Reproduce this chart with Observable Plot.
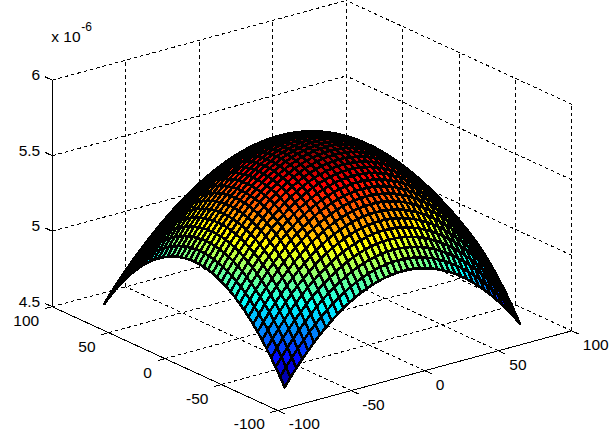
<!DOCTYPE html>
<html>
<head>
<meta charset="utf-8">
<script src="https://cdn.jsdelivr.net/npm/d3@7"></script>
<script src="https://cdn.jsdelivr.net/npm/@observablehq/plot@0.6"></script>
<style>html,body{margin:0;padding:0;background:#fff}svg{display:block}</style>
</head>
<body>
<div id="chart"></div>
<script>
// Axis values
const xTicks = [-100, -50, 0, 50, 100];
const yTicks = [-100, -50, 0, 50, 100];
const zTicks = [4.5, 5, 5.5, 6];
const xyLimits = [-100, 100];
const zLimits = [4.5, 6];
const gridStep = 4;          // surface sample spacing, from -80 to 80
const viewAzimuth = 37.5;
const viewElevation = 30;

// Surface heights (x 10^-6). The surface looks symmetric,
// so row r holds the heights for |x| index r and |y| index r, r+1, ... 20 (step 4).
const zRows = [
[5.692,5.690,5.686,5.678,5.668,5.654,5.638,5.618,5.596,5.570,5.541,5.510,5.475,5.437,5.397,5.353,5.306,5.257,5.204,5.148,5.089],
[5.689,5.684,5.677,5.666,5.653,5.636,5.617,5.594,5.568,5.540,5.508,5.474,5.436,5.395,5.352,5.305,5.255,5.202,5.147,5.088],
[5.680,5.672,5.662,5.648,5.632,5.612,5.590,5.564,5.535,5.504,5.469,5.432,5.391,5.347,5.301,5.251,5.198,5.142,5.084],
[5.665,5.654,5.641,5.624,5.605,5.582,5.557,5.528,5.496,5.462,5.424,5.384,5.340,5.293,5.244,5.191,5.135,5.077],
[5.644,5.630,5.614,5.594,5.572,5.546,5.518,5.486,5.452,5.414,5.373,5.330,5.283,5.234,5.181,5.126,5.067],
[5.617,5.600,5.581,5.558,5.533,5.504,5.473,5.438,5.401,5.360,5.317,5.270,5.221,5.168,5.113,5.055],
[5.584,5.564,5.542,5.517,5.488,5.457,5.422,5.385,5.344,5.301,5.255,5.205,5.153,5.098,5.039],
[5.545,5.523,5.497,5.469,5.438,5.403,5.366,5.326,5.282,5.236,5.187,5.135,5.079,5.021],
[5.500,5.475,5.447,5.415,5.381,5.344,5.304,5.261,5.215,5.165,5.113,5.058,5.000],
[5.450,5.422,5.390,5.356,5.319,5.279,5.236,5.190,5.141,5.089,5.034,4.977],
[5.394,5.362,5.329,5.292,5.252,5.209,5.163,5.114,5.063,5.008,4.950],
[5.332,5.298,5.261,5.221,5.179,5.133,5.084,5.033,4.978,4.921],
[5.264,5.227,5.188,5.145,5.100,5.052,5.000,4.946,4.889],
[5.191,5.152,5.109,5.064,5.016,4.965,4.911,4.854],
[5.112,5.070,5.025,4.978,4.927,4.873,4.817],
[5.029,4.984,4.936,4.886,4.833,4.776],
[4.940,4.892,4.842,4.789,4.733],
[4.845,4.796,4.743,4.687],
[4.746,4.694,4.639],
[4.642,4.587],
[4.533]
];

// Jet colormap stops
const jetStops = [0, 0.125, 0.375, 0.625, 0.875, 1];
const jetColors = ["#000080", "#0000ff", "#00ffff", "#ffff00", "#ff0000", "#800000"];

// Orthographic view of the axes box (MATLAB's default view)
const az = viewAzimuth * Math.PI / 180, el = viewElevation * Math.PI / 180;
const norm = (v, [a, b]) => (v - a) / (b - a);
function px(x, y) { return norm(x, xyLimits) * Math.cos(az) - norm(y, xyLimits) * Math.sin(az); }
function py(x, y, z) {
  return (norm(x, xyLimits) * Math.sin(az) + norm(y, xyLimits) * Math.cos(az)) * Math.sin(el)
       + norm(z, zLimits) * Math.cos(el);
}
const pt = (x, y, z) => ({x: px(x, y), y: py(x, y, z)});
const seg = (a, b) => { const p = pt(...a), q = pt(...b); return {x1: p.x, y1: p.y, x2: q.x, y2: q.y}; };

// Surface faces, far ones first
const zAt = (i, j) => {
  const a = Math.abs(i), b = Math.abs(j), lo = Math.min(a, b), hi = Math.max(a, b);
  return zRows[lo][hi - lo];
};
const faces = [];
for (let i = -20; i < 20; ++i) for (let j = -20; j < 20; ++j) {
  const corners = [[i, j], [i + 1, j], [i + 1, j + 1], [i, j + 1], [i, j]];
  const h = d3.mean(corners.slice(0, 4), ([a, b]) => zAt(a, b));
  faces.push({id: `${i},${j}`, h, depth: (i + 0.5) * Math.sin(az) + (j + 0.5) * Math.cos(az), corners});
}
faces.sort((a, b) => b.depth - a.depth);
const facePoints = faces.flatMap(f => f.corners.map(([a, b]) => {
  const p = pt(a * gridStep, b * gridStep, zAt(a, b));
  return {id: f.id, h: f.h, x: p.x, y: p.y};
}));
const allZ = zRows.flat();
const zMin = d3.min(allZ), zMax = d3.max(allZ);

// Box, grid and ticks
const [lo, hi] = xyLimits, [zb, zt] = zLimits;
const dashed = [
  seg([lo, hi, zb], [hi, hi, zb]), seg([hi, lo, zb], [hi, hi, zb]),
  seg([lo, hi, zt], [hi, hi, zt]), seg([hi, lo, zt], [hi, hi, zt]),
  seg([hi, hi, zb], [hi, hi, zt]), seg([hi, lo, zb], [hi, lo, zt]),
  ...xTicks.slice(1, -1).flatMap(t => [seg([t, lo, zb], [t, hi, zb]), seg([t, hi, zb], [t, hi, zt])]),
  ...yTicks.slice(1, -1).flatMap(t => [seg([lo, t, zb], [hi, t, zb]), seg([hi, t, zb], [hi, t, zt])]),
  ...zTicks.slice(1, -1).flatMap(t => [seg([lo, hi, t], [hi, hi, t]), seg([hi, lo, t], [hi, hi, t])])
];
const xTickLen = 6.5, yTickLen = 5;
const solid = [
  seg([lo, lo, zb], [hi, lo, zb]), seg([lo, lo, zb], [lo, hi, zb]), seg([lo, hi, zb], [lo, hi, zt]),
  ...xTicks.map(t => seg([t, lo, zb], [t, lo - xTickLen, zb])),
  ...yTicks.map(t => seg([lo, t, zb], [lo - yTickLen, t, zb])),
  ...zTicks.map(t => seg([lo, hi, t], [lo, hi + xTickLen, t]))
];

const font = {fontFamily: "Liberation Sans, Arial, sans-serif", fill: "#000"};
const top0 = pt(lo, hi, zt);

const chart = Plot.plot({
  width: 614, height: 447,
  marginTop: 0, marginRight: 0, marginBottom: 0, marginLeft: 0,
  style: {background: "#fff"},
  x: {axis: null, domain: [-Math.sin(az), Math.cos(az)], range: [51.7, 571.3]},
  y: {axis: null, domain: [0, Math.sin(az) * Math.sin(el) + Math.cos(az) * Math.sin(el) + Math.cos(el)], range: [410, 0]},
  color: {type: "linear", domain: jetStops.map(t => zMin + t * (zMax - zMin)), range: jetColors, interpolate: "rgb"},
  marks: [
    Plot.link(dashed, {x1: "x1", y1: "y1", x2: "x2", y2: "y2", stroke: "#000", strokeWidth: 1, strokeDasharray: "3.5,3", shapeRendering: "crispEdges"}),
    Plot.link(solid, {x1: "x1", y1: "y1", x2: "x2", y2: "y2", stroke: "#000", strokeWidth: 1, shapeRendering: "crispEdges"}),
    Plot.line(facePoints, {x: "x", y: "y", z: "id", fill: "h", stroke: "#000", strokeWidth: 2.6, shapeRendering: "crispEdges"}),
    Plot.text(xTicks, {x: t => px(t, lo), y: t => py(t, lo, zb), text: String, textAnchor: "start", dx: 11, dy: 14, fontSize: 15.5, ...font}),
    Plot.text(yTicks, {x: t => px(lo, t), y: t => py(lo, t, zb), text: String, textAnchor: "end", dx: -13, dy: 14, fontSize: 15.5, ...font}),
    Plot.text(zTicks, {x: t => px(lo, hi), y: t => py(lo, hi, t), text: String, textAnchor: "end", dx: -12, dy: -5, fontSize: 15.5, ...font}),
    Plot.text(["x 10"], {x: () => top0.x, y: () => top0.y, textAnchor: "start", dx: -1, dy: -43, fontSize: 15.5, ...font}),
    Plot.text(["-6"], {x: () => top0.x, y: () => top0.y, textAnchor: "start", dx: 29, dy: -53, fontSize: 12, ...font})
  ]
});
document.getElementById("chart").append(chart);
</script>
</body>
</html>
